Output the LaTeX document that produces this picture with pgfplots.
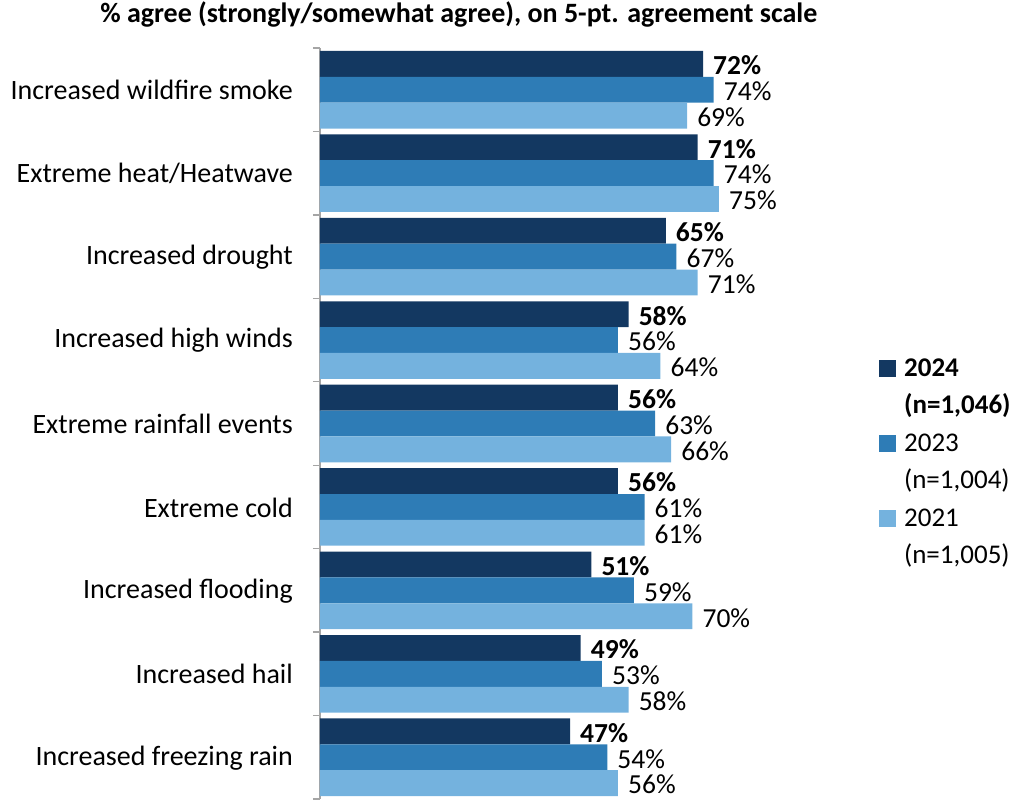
\documentclass[border=0pt]{standalone}
\usepackage{fontspec}
\setmainfont{Carlito}
\usepackage{pgfplots}
\pgfplotsset{compat=1.18}
\definecolor{c24}{RGB}{19,56,97}
\definecolor{c23}{RGB}{46,124,182}
\definecolor{c21}{RGB}{116,178,222}
\definecolor{axgray}{RGB}{165,165,165}
\begin{document}
\begin{tikzpicture}
\useasboundingbox (-320pt,-1pt) rectangle (693pt,799pt);
\begin{axis}[
  scale only axis, width=532pt, height=751pt,
  xbar, xmin=0, xmax=100, ymin=-0.5, ymax=8.5, y dir=reverse,
  axis x line=none, axis y line*=left,
  y axis line style={axgray, line width=1.3pt},
  ytick={0,...,8},
  yticklabels={Increased wildfire smoke, Extreme heat/Heatwave, Increased drought, Increased high winds, Extreme rainfall events, Extreme cold, Increased flooding, Increased hail, Increased freezing rain},
  major tick length=0pt,
  yticklabel style={font=\fontsize{28}{34}\selectfont, anchor=east, inner sep=0pt, xshift=-27pt, yshift=-0.5pt},
  extra y ticks={-0.5,0.5,1.5,2.5,3.5,4.5,5.5,6.5,7.5,8.5},
  extra y tick labels={},
  extra y tick style={major tick length=7pt, tick align=outside, tick style={axgray, line width=1.3pt}},
  bar width=0.31,
  point meta=x,
  nodes near coords={\pgfmathprintnumber{\pgfplotspointmeta}\%},
  nodes near coords style={font=\fontsize{27.5}{32}\selectfont, anchor=west, inner sep=0pt, xshift=10pt, yshift=-1.5pt, text=black},
  /pgf/number format/assume math mode=true,
  clip=false,
  title={\% agree (strongly/somewhat agree), on 5-pt. agreement scale},
  title style={font=\fontsize{28}{32}\selectfont\bfseries, at={(0.261,1)}, anchor=base, yshift=20pt, inner sep=0pt},
  legend style={at={(1.045,0.591)}, anchor=north west, draw=none, fill=none,
    font=\fontsize{27}{32}\selectfont, row sep=12.5pt,
    nodes={inner sep=0pt, text height=19pt, text depth=6pt},
    /tikz/every odd column/.append style={column sep=8pt}},
  legend cell align=left,
  legend image code/.code={\fill[#1,draw=none] (0pt,-7pt) rectangle (17pt,10pt);},
]
\addplot[fill=c24, draw=none, bar shift=-0.31, every node near coord/.append style={font=\fontsize{27.5}{32}\selectfont\bfseries}]
  coordinates {(72,0) (71,1) (65,2) (58,3) (56,4) (56,5) (51,6) (49,7) (47,8)};
\addlegendentry{\textbf{2024}}
\addlegendimage{empty legend}
\addlegendentry{\textbf{(n=1,046)}}
\addplot[fill=c23, draw=none, bar shift=0]
  coordinates {(74,0) (74,1) (67,2) (56,3) (63,4) (61,5) (59,6) (53,7) (54,8)};
\addlegendentry{2023}
\addlegendimage{empty legend}
\addlegendentry{(n=1,004)}
\addplot[fill=c21, draw=none, bar shift=0.31]
  coordinates {(69,0) (75,1) (71,2) (64,3) (66,4) (61,5) (70,6) (58,7) (56,8)};
\addlegendentry{2021}
\addlegendimage{empty legend}
\addlegendentry{(n=1,005)}
\end{axis}
\end{tikzpicture}
\end{document}
